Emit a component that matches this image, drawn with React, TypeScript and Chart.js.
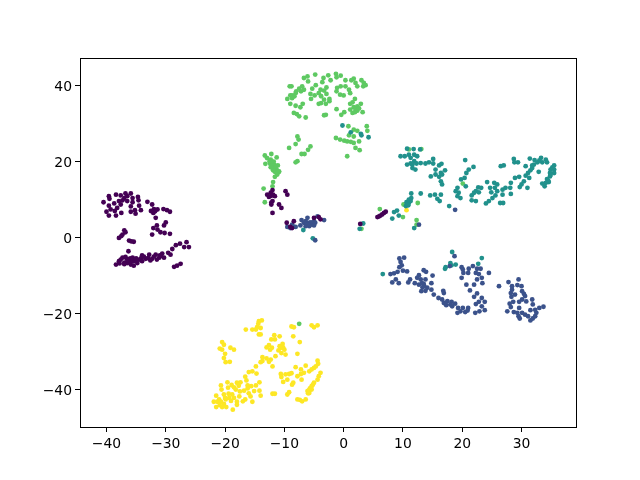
import React, { useEffect, useRef } from "react";
import { Chart, registerables } from "chart.js";

Chart.register(...registerables);

type P = [number, number];

const xTicks = [-40, -30, -20, -10, 0, 10, 20, 30];
const yTicks = [-40, -20, 0, 20, 40];

const cluster0: P[] = [
  [-40.5,9.3],[-39.6,10.9],[-39.5,10.2],[-38.4,11.3],[-37.6,11.1],[-36.8,11.6],[-36.5,10.9],[-35.9,11.6],[-35.6,10.4],[-34.7,10.7],[-34.6,9.8],[-39.6,8.4],[-38.7,9.0],[-37.9,9.6],[-37.3,9.8],[-37.0,10.4],[-36.5,9.6],[-35.6,9.3],[-39.3,7.4],[-40.0,6.8],[-39.6,5.8],[-38.4,5.8],[-38.6,7.0],[-37.5,6.5],[-35.9,6.8],[-35.2,7.2],[-35.1,6.3],[-34.2,7.2],[-34.5,8.4],[-35.9,8.2],[-37.6,8.7],[-38.2,7.8],
  [-33.1,9.4],[-32.3,8.7],[-32.0,7.5],[-31.4,7.4],[-32.1,6.5],[-31.7,5.2],[-30.4,7.5],[-29.8,7.2],[-29.3,6.8],[-30.0,4.0],[-30.3,3.2],[-31.5,3.2],[-32.1,2.5],[-31.4,2.1],[-32.3,0.8],[-30.9,1.4],[-30.2,1.2],[-29.3,1.0],
  [-37.9,-0.1],[-37.3,0.8],[-37.0,1.9],[-36.8,1.4],[-36.2,-0.8],[-35.4,-1.1],[-35.8,-1.0],[-37.5,0.4],
  [-36.3,-3.6],[-38.4,-7.1],[-37.9,-6.2],[-37.3,-5.3],[-36.8,-5.1],[-36.2,-5.8],[-35.6,-5.3],[-35.4,-6.2],[-36.5,-6.7],[-35.9,-7.1],[-35.4,-7.4],[-34.8,-6.7],[-34.5,-5.8],[-34.0,-4.7],[-33.4,-5.6],[-32.8,-4.5],[-32.3,-5.6],[-31.7,-4.5],[-31.1,-5.3],[-30.6,-4.2],[-30.3,-5.3],[-29.6,-4.0],[-29.2,-4.5],[-28.9,-3.0],[-28.3,-2.0],[-27.6,-1.6],[-26.5,-1.2],[-26.9,-2.5],[-26.1,-2.5],[-28.6,-7.7],[-28.1,-7.4],[-27.5,-6.9],
  [-37.0,-6.6],[-37.6,-5.8],[-36.0,-6.3],[-34.2,-5.5],[-33.0,-5.4],[-32.6,-6.0],[-31.5,-5.8],[-30.8,-4.8],[-35.0,-6.0],[-33.7,-5.0],[-32.0,-5.0],[-36.6,-5.6],
  [-36,-5.5],[-35,-5.5],[-31,-4.7],[-37,-7],[-34,-6.2],[-36.4,-6],[-37.8,-6.8],[-32.5,7],[-31.8,6.9],
  [-12.0,12.5],[-12.3,11.8],[-11.9,11.3],[-12.9,11.3],[-12.6,10.7],[-11.6,10.9],[-12.0,9.6],[-12.2,8.7],[-9.8,12.2],[-9.5,11.3],[-10.9,8.7],[-10.5,7.8],[-12.0,6.5],[-9.6,3.9],[-9.0,2.8],[-8.4,4.3],[-8.7,2.5],[-5.0,5.2],[-3.9,4.8],[-4.2,5.4],[2.8,3.6],[5.7,5.4],[6.2,5.8],[6.8,6.5],[7.1,6.8],[6.0,5.6],[6.5,6.1],[-12.2,11],[-12.2,9.2],
];

const cluster1: P[] = [
  [18.7,-4.9],[9.4,-5.5],[10.2,-5.3],[9.6,-6.4],[9.8,-7.3],[9.4,-7.8],[10.0,-8.7],[10.7,-8.9],[9.1,-9.0],[8.5,-9.4],[7.9,-9.6],[8.8,-11.0],[8.2,-11.8],[9.3,-12.0],[11.2,-11.0],[10.9,-11.8],
  [13.5,-8.6],[13.9,-9.0],[15.0,-10.0],[12.7,-9.9],[13.0,-11.0],[12.4,-10.6],[13.8,-11.0],[12.0,-12.0],[12.7,-12.4],[13.5,-12.2],[14.8,-12.0],[13.3,-13.1],[14.1,-13.2],[13.1,-14.1],[13.8,-14.0],[14.8,-13.7],[15.2,-15.0],[16.8,-14.0],[16.9,-14.6],[13.2,-12],[13.6,-12.8],
  [16.0,-15.9],[16.6,-16.3],[16.9,-17.2],[17.5,-16.7],[17.3,-17.8],[18.2,-16.9],[18.3,-18.1],[18.8,-17.4],[19.3,-18.5],[19.2,-19.8],[20.1,-18.5],[19.7,-19.4],[20.5,-19.6],[21.0,-18.5],[20.9,-19.2],[17.1,-17.2],[18,-17.6],
  [22.2,-19.8],[22.3,-17.5],[22.9,-19.4],[23.8,-19.1],[23.3,-18.1],[23.8,-16.9],[22.8,-16.9],[23.3,-15.9],[22.5,-14.7],[22.0,-15.6],[22.0,-12.4],[21.3,-13.9],[20.7,-12.4],[19.9,-10.6],[19.9,-7.8],[20.1,-8.4],[20.2,-9.3],[21.1,-8.2],[21.8,-7.5],[22.5,-8.2],[23.1,-8.2],[22.3,-9.3],[22.8,-9.6],[21.0,-9.3],[24.5,-9.3],[23.3,-10.6],[23.4,-12.0],[22.5,-11.0],[17.9,-7.5],
  [26.2,-12.8],[27.8,-11.7],[29.5,-11.0],[28.4,-12.8],[29.3,-12.5],[30.0,-12.8],[28.4,-13.7],[28.2,-14.6],[28.3,-15.6],[28.9,-15.0],[30.1,-14.1],[30.6,-15.4],[30.1,-16.3],[30.8,-16.8],[31.8,-16.3],[28.0,-17.4],[28.6,-16.9],[29.6,-16.9],[27.6,-19.4],[28.2,-18.3],[28.7,-19.6],[29.6,-18.5],[29.5,-20.7],[29.7,-21.3],[30.6,-20.3],[31.1,-20.7],[31.5,-21.8],[31.9,-21.3],[32.3,-20.7],[31.5,-19.1],[32.3,-19.0],[31.9,-17.6],[33.0,-18.5],[33.7,-18.2],[32.5,-19.8],[30.1,-19.8],[29.3,-19.8],[30.4,-14.8],
  [-9.5,2.8],[-9.0,2.5],[-8.1,2.8],[-8.7,3.4],[-7.1,4.6],[-7.3,3.2],[-6.1,5.2],[-6.4,4.3],[-5.8,3.9],[-5.0,4.3],[-5.3,3.4],[-5.8,3.0],[-4.4,5.6],[-4.8,3.9],[-3.3,4.6],[-6.7,3.9],[-4.8,-0.7],[12.7,3.4],[18.8,7.3],[-5.5,4],[-6,3.5],[-5,3.2],[-8.5,2.9],[-6.4,3],
];

const cluster2: P[] = [
  [10.7,23.4],[11.8,23.3],[12.9,23.2],[9.6,21.4],[10.3,21.4],[11.0,21.8],[11.9,21.8],[12.4,21.4],[11.3,21],[10.7,19.2],[11.3,19.5],[11.9,20.1],[12.3,19.5],[13.0,19.6],[13.8,19.5],[14.4,19.8],[15.1,20.7],[15.1,19.5],[16.1,19.0],[16.5,19.4],[11.6,18.3],[12.1,17.9],[11.6,19.2],
  [15.5,17.9],[14.7,16.1],[15.5,16.6],[16.4,17.0],[17.1,17.7],[16.1,16.0],[16.6,16.6],[16.4,14.8],[16.6,14.0],
  [20.5,20.4],[21.9,18.6],[21.1,17.9],[20.7,17.0],[20.4,15.7],[19.8,15.3],[20.6,13.5],[19.2,13.1],[18.9,12.2],[19.4,11.8],[19.2,10.9],[19.7,10.4],
  [14.6,11.1],[15.4,11.3],[16.4,11.3],[15.8,10.2],[16.2,9.6],[17.8,8.3],
  [21.6,11.1],[21.6,9.8],[22.3,9.6],[22.3,12.2],[22.7,13.2],[23.2,13.1],[22.8,11.9],[22.0,11.8],
  [24.2,14.6],[24.7,13.1],[24.9,11.9],[25.4,14.4],[25.9,14.0],[25.5,13.1],[25.9,12.2],[26.8,12.6],[27.3,13.1],[26.8,11.3],[25.6,11.1],[25.1,10.4],[24.5,9.6],[24.0,9.0],[26.4,9.1],[26.9,9.1],[28.2,11.5],[28.1,13.1],[28.2,14.4],[28.9,15.7],[29.6,16.0],
  [26.5,18.8],[27.0,19.0],[28.7,20.7],[28.8,19.8],[29.4,19.8],[31.4,20.8],[30.7,18.8],[32.2,20.4],[32.7,19.8],[33.3,21.0],[34.1,20.5],[34.3,19.8],[33.5,19.8],[32.1,19.2],[31.8,18.3],[31.5,17.7],[32.9,17.3],[31.1,17.0],[30.7,16.3],[31.3,15.7],[30.4,14.8],[30.0,14.0],[29.7,13.3],[31.0,13.1],[33,20.3],[31.8,19],
  [35.5,19.0],[34.9,17.9],[35.5,17.9],[34.8,17.0],[35.5,17.0],[34.8,16.1],[34.3,15.4],[34.6,14.6],[34.1,14.4],[33.5,14.2],[33.9,13.5],[34.9,16.5],[35.2,18.5],[34.5,15],
  [11.4,11.6],[13.0,11.6],[10.6,9.3],[11.0,9.1],[11.3,9.6],[10.5,8.3],[11.4,10.4],[10.7,8.7],[8.5,6.7],[9.0,7.1],[9.3,5.8],[8.2,5.0],[11.9,2.5],[3.3,3.7],[2.7,2.3],[-6.8,2.0],[-5.2,-0.2],[11,10],[10.9,8.5],
  [-0.2,29.5],[1.2,27.7],[2.9,27.3],[3.0,26.9],[4.2,26.4],
  [6.6,-9.6],[18.3,-3.8],[18.0,-6.7],[18.2,-7.3],[17.2,-7.8],[17.1,-8.2],[18.9,-7.1],[22.7,-6.9],[23.3,-5.4],
];

const cluster3: P[] = [
  [-9.1,39.8],[-8.8,39.8],[-6.7,42.0],[-6.1,42.4],[-6.0,41.1],[-4.8,42.9],[-3.4,42.0],[-3.6,40.9],[-2.6,42.7],[-2.2,41.4],[-1.3,43.1],[-1.2,42.2],[-0.5,42.6],[0.3,41.4],[1.7,41.8],[1.3,41.4],[2.0,40.7],[2.3,39.8],[3.0,41.4],[3.4,40.7],[3.7,40.1],[3.3,39.8],
  [-7.0,39.8],[-7.5,39.2],[-8.1,38.0],[-8.7,37.4],[-9.0,37.4],[-9.5,36.5],[-8.7,36.7],[-9.0,35.2],[-8.1,34.7],[-7.3,34.3],[-6.9,35.2],[-7.2,38.5],[-6.7,38.9],[-8.3,37.2],[-8,38.5],
  [-5.3,39.2],[-4.7,40.1],[-3.9,38.9],[-4.2,38.0],[-5.6,37.8],[-4.9,37.4],[-3.8,37.2],[-2.9,37.8],[-2.9,39.5],[-3.3,38.7],[-5.5,36.5],[-2.4,36.5],[-2.4,35.9],[-3.3,36.3],[-3.8,35.4],[-4.2,35.2],[-3.0,35.2],
  [-1.1,39.4],[-1.2,38.5],[-0.6,37.6],[-0.5,39.8],[0.3,39.8],[0.9,38.9],[1.1,38.0],[0,37.4],
  [1.9,36.5],[1.5,35.6],[1.1,35.2],[2.3,34.5],[2.9,35.2],[1.7,34.3],[1.1,33.7],[1.5,32.8],[2.3,33.4],[3.2,33.0],[1.9,33.0],[2,34],[2.6,34],
  [-1.2,33.8],[0.1,33.0],[-0.4,32.3],[-3.0,32.3],[-3.3,32.2],[-8.4,32.8],[-7.9,32.5],[-7.5,31.9],[-6.4,31.6],
  [0.8,29.3],[3.9,29.3],[1.7,28.4],[2.3,28.1],[4.0,28.1],[0.9,26.9],[-1.3,26.2],[-0.6,25.8],[0.1,25.5],[0.6,25.3],[1.2,25.2],[1.7,24.9],[2.6,25.3],[2.0,23.6],[2.7,23.0],[1.7,26.6],[0.6,21.4],
  [-7.8,26.6],[-7.6,25.8],[-8.1,24.6],[-9.2,23.6],[-5.6,24.0],[-6.0,23.1],[-7.1,22.0],[-6.6,22.0],[-7.8,20.1],[-8.1,19.8],
  [-13.3,21.6],[-12.2,22.0],[-11.3,21.1],[-12.9,20.9],[-13.2,19.4],[-12.3,20.5],[-12.0,19.9],[-12.4,19.4],[-11.7,19.2],[-11.1,19.0],[-12.3,18.5],[-11.7,18.1],[-11.3,17.9],[-10.9,17.3],[-11.6,17.3],[-11.8,20],[-12,18.9],[-11.5,18.5],[-12.5,20],[-11.9,17.7],
  [-10.9,17.4],[-11.2,16.6],[-11.6,16.0],[-11.9,14.6],[-12.0,13.5],[-13.5,12.9],[-13.3,9.3],[6.1,7.5],[10.0,5.4],[10.1,8.7],[12.3,4.6],[12.3,3.4],[3.0,2.3],
  [11.0,23.2],[13.1,23.3],[20.1,14.2],[12.5,9.1],[-7.5,-22.7],
];

const cluster4: P[] = [
  [-13.8,-21.8],[-14.3,-22.0],[-14.4,-22.7],[-14.0,-23.8],[-14.6,-23.6],[-15.4,-24.2],[-14.8,-24.2],[-16.5,-24.2],[-14.3,-25.5],[-14,-25.5],
  [-8.8,-23.4],[-8.4,-23.6],[-8.5,-26.0],[-7.4,-27.5],[-5.4,-23.1],[-5.0,-23.6],[-4.4,-23.1],
  [-11.7,-25.7],[-12.2,-26.8],[-11.6,-26.8],[-10.8,-26.0],[-10.3,-28.0],[-10.8,-28.6],[-10.2,-29.0],[-11.0,-29.7],[-10.5,-30.4],[-11.5,-31.2],[-9.8,-30.8],[-10.6,-29.0],[-12.6,-28.3],[-13.0,-28.9],[-12.1,-29.0],[-12.4,-29.5],[-7.8,-30.6],[-10.4,-28.5],[-10.0,-29.5],
  [-20.5,-27.5],[-20.2,-28.2],[-20.9,-29.2],[-20.5,-29.5],[-20.0,-30.6],[-20.2,-31.7],[-19.9,-32.8],[-19.2,-32.7],[-19.1,-29.0],[-18.5,-29.5],
  [-13.7,-31.5],[-13.7,-32.5],[-13.0,-31.8],[-12.6,-32.7],[-12.0,-33.9],[-12.3,-32.1],[-14,-32.8],[-14.8,-33.9],[-15.4,-35.2],[-16.0,-35.4],[-14.7,-35.8],[-16.6,-36.6],[-16.4,-37.6],
  [-8.1,-34.1],[-7.2,-34.7],[-6.4,-33.7],[-10.6,-35.9],[-10.5,-36.7],[-9.8,-36.0],[-9.2,-35.9],[-8.8,-35.7],[-9.5,-37.4],[-10.2,-38.0],[-8.5,-38.2],[-8.7,-38.7],[-7.8,-36.5],[-7.2,-35.9],[-6.7,-35.6],[-7.1,-37.4],[-5.8,-35.2],[-5.4,-34.7],[-5.0,-34.3],[-4.4,-32.4],[-4.3,-33.2],[-4.7,-33.9],[-3.9,-35.6],[-4.2,-36.5],[-4.4,-37.4],[-5.0,-38.2],[-5.4,-39.1],[-5.7,-39.7],[-6.1,-40.4],[-5.4,-40.0],[-5.8,-40.9],[-5.5,-39.5],[-5.2,-38.7],[-5.9,-40.2],[-6.0,-41.0],
  [-7.8,-42.6],[-7,-43.1],[-7.4,-42.7],[-6.4,-42.6],[-9.5,-41.3],[-9.2,-40.7],[-12.0,-41.1],[-11.6,-41.1],
  [-20.7,-38.9],[-20.6,-40.0],[-19.6,-38.1],[-18.9,-38.8],[-18.5,-39.4],[-18.0,-38.2],[-17.4,-38.1],[-17.7,-39.0],[-16.2,-38.9],[-15.6,-39.1],[-14.8,-38.9],[-14.2,-38.1],[-18.2,-40.0],[-16.8,-40.3],[-16.2,-39.7],[-15.1,-40.4],[-14.2,-40.3],[-14.0,-41.6],[-15.7,-41.8],[-16.6,-42.6],[-17.0,-43.1],[-17.6,-41.8],[-18.0,-43.2],[-18.0,-44.0],[-18.7,-45.3],[-15.4,-43.2],[-19.4,-41.1],[-18.8,-41.3],[-20.2,-41.3],[-19.3,-42.2],[-19.9,-42.6],[-18.5,-42.2],[-21.5,-41.6],[-21.0,-42.6],[-21.9,-43.2],[-21.3,-43.2],[-20.7,-43.2],[-21.5,-44.6],[-20.9,-44.1],[-20.2,-43.8],[-19.8,-44.6],[-20.5,-44.6],[-19.0,-43.0],[-17.5,-40.5],[-19.5,-39.5],[-16.0,-41],[-20.0,-42.2],
  [10.6,7.2],
];

const clusters = [cluster0, cluster1, cluster2, cluster3, cluster4];
const colors = ["#440154", "#3b528b", "#21918c", "#5ec962", "#fde725"];

const frame = {
  id: "frame",
  beforeDraw(chart: any) {
    for (const item of chart.scales.y.getLabelItems()) item.textOffset += 1.4;
  },
  afterDatasetsDraw(chart: any) {
    const { ctx, chartArea: a } = chart;
    ctx.save();
    ctx.strokeStyle = "#000";
    ctx.lineWidth = 1;
    ctx.strokeRect(Math.round(a.left) + 0.5, Math.round(a.top) + 0.5, Math.round(a.right - a.left), Math.round(a.bottom - a.top));
    ctx.restore();
  },
};

const minus = (v: any) => String(v).replace("-", "\u2212");
const font = { family: "'DejaVu Sans'", size: 13.9 };

export default function App() {
  const ref = useRef<HTMLCanvasElement>(null);
  useEffect(() => {
    document.body.style.margin = "0";
    const chart = new Chart(ref.current!, {
      type: "scatter",
      data: {
        datasets: clusters.map((c, i) => ({
          data: c.map(([x, y]) => ({ x, y })),
          backgroundColor: colors[i],
          borderWidth: 0,
          pointRadius: 2.4,
        })),
      },
      options: {
        animation: false,
        responsive: false,
        layout: { padding: { top: 58, right: 64, bottom: 0, left: 0 } },
        plugins: { legend: { display: false }, tooltip: { enabled: false } },
        scales: {
          x: {
            type: "linear",
            min: -44.47,
            max: 39.19,
            afterBuildTicks: (s: any) => { s.ticks = xTicks.map((value) => ({ value })); },
            afterFit: (s: any) => { s.height = 53; },
            grid: { drawOnChartArea: false, tickLength: 5, tickColor: "#000" },
            border: { color: "#000" },
            ticks: { color: "#000", font, padding: 4, maxRotation: 0, autoSkip: false, callback: minus },
          },
          y: {
            type: "linear",
            min: -49.85,
            max: 47.26,
            afterBuildTicks: (s: any) => { s.ticks = yTicks.map((value) => ({ value })); },
            afterFit: (s: any) => { s.width = 80; },
            grid: { drawOnChartArea: false, tickLength: 5, tickColor: "#000" },
            border: { color: "#000" },
            ticks: { color: "#000", font, padding: 3, autoSkip: false, callback: minus },
          },
        },
      },
      plugins: [frame],
    } as any);
    return () => chart.destroy();
  }, []);
  return <canvas ref={ref} width={640} height={480} style={{ display: "block" }} />;
}
